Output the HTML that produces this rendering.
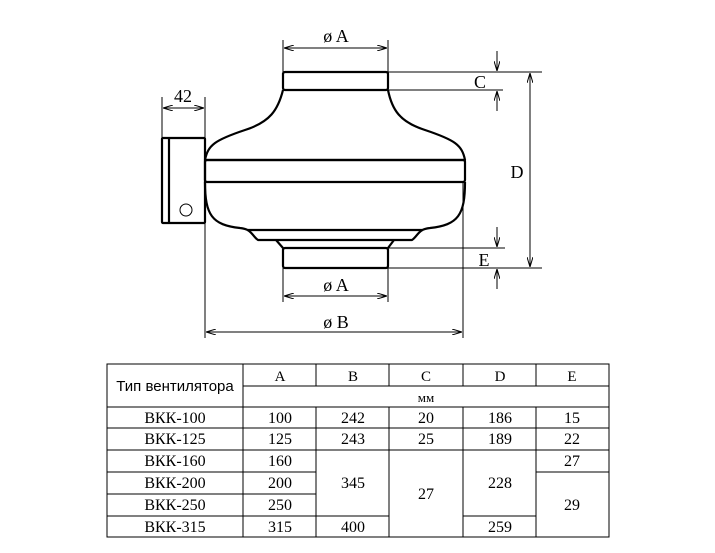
<!DOCTYPE html>
<html><head><meta charset="utf-8"><style>
body{margin:0;background:#fff;width:715px;height:553px;overflow:hidden}
svg{position:absolute;left:0;top:0}
text{font-family:"Liberation Serif",serif;fill:#000}
</style></head><body>
<svg width="715" height="553" viewBox="0 0 715 553">
<defs><marker id="a" markerWidth="10" markerHeight="6" refX="10" refY="3" orient="auto-start-reverse" markerUnits="userSpaceOnUse"><path d="M0,0 L10,3 L0,6" fill="none" stroke="#000" stroke-width="1"/></marker></defs>
<g fill="none" stroke="#000" stroke-width="2.2" stroke-linejoin="round">
<rect x="283" y="72" width="105" height="18" rx="2"/>
<path d="M283,90 C278,110 270,122 245,130 C215,140 208,145 205,160 L465,160 C462,145 455,140 425,130 C400,122 392,110 388,90"/>
<rect x="205" y="160" width="260" height="22" rx="2"/>
<path d="M205,182 C205,215 212,225 240,228 C252,229 252,236 258,240 L412,240 C418,236 418,229 430,228 C458,225 465,215 465,182"/>
<path d="M248,230 L422,230"/>
<rect x="283" y="248" width="105" height="20" rx="2"/>
<path d="M276,240 L283,248 M394,240 L388,248"/>
<rect x="162" y="138" width="43" height="85" rx="1"/>
<line x1="169" y1="138" x2="169" y2="223"/>
</g>
<circle cx="186" cy="210" r="6" fill="none" stroke="#000" stroke-width="1"/>
<g stroke="#000" stroke-width="1" fill="none">
<line x1="283" y1="40" x2="283" y2="72"/><line x1="388" y1="40" x2="388" y2="72"/>
<line x1="284" y1="48" x2="387" y2="48" marker-start="url(#a)" marker-end="url(#a)"/>
<line x1="162" y1="97" x2="162" y2="138"/><line x1="205" y1="97" x2="205" y2="160"/>
<line x1="163" y1="108" x2="204" y2="108" marker-start="url(#a)" marker-end="url(#a)"/>
<line x1="388" y1="72" x2="542" y2="72"/><line x1="388" y1="90" x2="503" y2="90"/>
<line x1="497" y1="51" x2="497" y2="71" marker-end="url(#a)"/>
<line x1="497" y1="111" x2="497" y2="91" marker-end="url(#a)"/>
<line x1="530" y1="73" x2="530" y2="267" marker-start="url(#a)" marker-end="url(#a)"/>
<line x1="388" y1="248" x2="505" y2="248"/><line x1="388" y1="268" x2="542" y2="268"/>
<line x1="497" y1="227" x2="497" y2="247" marker-end="url(#a)"/>
<line x1="497" y1="289" x2="497" y2="269" marker-end="url(#a)"/>
<line x1="283" y1="268" x2="283" y2="302"/><line x1="388" y1="268" x2="388" y2="302"/>
<line x1="284" y1="296" x2="387" y2="296" marker-start="url(#a)" marker-end="url(#a)"/>
<line x1="205" y1="223" x2="205" y2="338"/><line x1="463" y1="182" x2="463" y2="338"/>
<line x1="206" y1="332" x2="462" y2="332" marker-start="url(#a)" marker-end="url(#a)"/>
</g>
<g font-size="18">
<text x="336" y="42" text-anchor="middle">ø A</text>
<text x="336" y="291" text-anchor="middle">ø A</text>
<text x="336" y="328" text-anchor="middle">ø B</text>
<text x="183" y="102" text-anchor="middle">42</text>
<text x="480" y="88" text-anchor="middle">C</text>
<text x="517" y="178" text-anchor="middle">D</text>
<text x="484" y="266" text-anchor="middle">E</text>
</g>
<g stroke="#000" stroke-width="1" fill="none">
<rect x="107" y="364" width="502" height="173"/>
<line x1="243" y1="364" x2="243" y2="537"/>
<line x1="316" y1="364" x2="316" y2="386"/><line x1="389" y1="364" x2="389" y2="386"/>
<line x1="463" y1="364" x2="463" y2="386"/><line x1="536" y1="364" x2="536" y2="386"/>
<line x1="243" y1="386" x2="609" y2="386"/>
<line x1="107" y1="407" x2="609" y2="407"/>
<line x1="107" y1="428" x2="609" y2="428"/>
<line x1="107" y1="450" x2="609" y2="450"/>
<line x1="107" y1="472" x2="316" y2="472"/><line x1="536" y1="472" x2="609" y2="472"/>
<line x1="107" y1="494" x2="316" y2="494"/>
<line x1="107" y1="516" x2="389" y2="516"/><line x1="463" y1="516" x2="536" y2="516"/>
<line x1="316" y1="407" x2="316" y2="537"/><line x1="389" y1="407" x2="389" y2="537"/>
<line x1="463" y1="407" x2="463" y2="537"/><line x1="536" y1="407" x2="536" y2="537"/>
</g>
<g font-size="16" text-anchor="middle">
<text x="175" y="391" style="font-family:'Liberation Sans',sans-serif" font-size="15">Тип вентилятора</text>
<text x="280" y="381" font-size="15">A</text><text x="353" y="381" font-size="15">B</text><text x="426" y="381" font-size="15">C</text><text x="500" y="381" font-size="15">D</text><text x="572" y="381" font-size="15">E</text>
<text x="426" y="402" font-size="13">мм</text>
<text x="175" y="423">ВКК-100</text><text x="280" y="423">100</text><text x="353" y="423">242</text><text x="426" y="423">20</text><text x="500" y="423">186</text><text x="572" y="423">15</text>
<text x="175" y="444">ВКК-125</text><text x="280" y="444">125</text><text x="353" y="444">243</text><text x="426" y="444">25</text><text x="500" y="444">189</text><text x="572" y="444">22</text>
<text x="175" y="466">ВКК-160</text><text x="280" y="466">160</text><text x="572" y="466">27</text>
<text x="175" y="488">ВКК-200</text><text x="280" y="488">200</text><text x="353" y="488">345</text><text x="500" y="488">228</text>
<text x="175" y="510">ВКК-250</text><text x="280" y="510">250</text><text x="426" y="499">27</text><text x="572" y="510">29</text>
<text x="175" y="532">ВКК-315</text><text x="280" y="532">315</text><text x="353" y="532">400</text><text x="500" y="532">259</text>
</g>
</svg>
</body></html>
